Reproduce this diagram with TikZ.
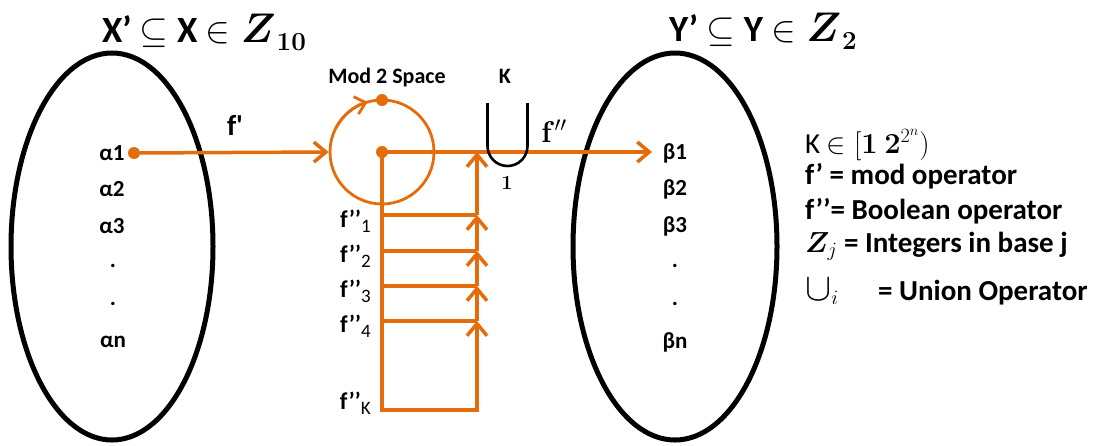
\RequirePackage{fix-cm}
\documentclass[tikz,border=0pt]{standalone}
\usepackage{amsmath,bm,graphicx}
\usepackage[no-math]{fontspec}
\setmainfont{Carlito}
\usetikzlibrary{arrows.meta,shapes.geometric}
\definecolor{org}{HTML}{E46C0A}
\newcommand{\sq}{\XeTeXglyph\XeTeXcharglyph"27\relax}
\begin{document}
\begin{tikzpicture}[x=1pt,y=1pt,
  setell/.style={ellipse,draw=black,line width=5pt,inner sep=0pt},
  oline/.style={draw=org,line width=3.5pt},
  oarr/.style={oline,-{Straight Barb[length=12pt,width=20pt,line width=3.5pt]}},
  odot/.style={circle,fill=org,inner sep=0pt,minimum size=12pt},
  lbl/.style={font=\fontsize{23}{25}\selectfont\bfseries,inner sep=0pt},
  ttl/.style={font=\fontsize{37}{40}\selectfont\bfseries,inner sep=0pt},
  leg/.style={font=\fontsize{29}{31}\selectfont\bfseries,inner sep=0pt,anchor=west},
  fl/.style={font=\fontsize{24}{26}\selectfont\bfseries,inner sep=0pt,anchor=east}
]
\useasboundingbox (0,0) rectangle (1099,-445);

% sets
\node[setell,minimum width=202pt,minimum height=387pt] (X) at (112,-246.5) {};
\node[setell,minimum width=204pt,minimum height=387pt] (Y) at (675,-246.5) {};
\node[ttl] (tx) at (204,-32) {X’ $\subseteq$ X $\in \scalebox{1.12}{$\boldsymbol{Z}$}$\hspace{1pt}\raisebox{-8pt}{\fontsize{26}{28}\selectfont$\mathbf{10}$}};
\node[ttl] (ty) at (763,-31) {Y’ $\subseteq$ Y $\in \scalebox{1.12}{$\boldsymbol{Z}$}$\hspace{1pt}\raisebox{-8pt}{\fontsize{26}{28}\selectfont$\mathbf{2}$}};

% alpha labels
\node[lbl] (a1) at (112,-153) {α1};
\node[lbl] (a2) at (112,-189) {α2};
\node[lbl] (a3) at (112,-226) {α3};
\node[lbl] (ad1) at (113,-266) {.};
\node[lbl] (ad2) at (113,-304) {.};
\node[lbl] (an) at (113,-342) {αn};

% beta labels
\node[lbl] (b1) at (675,-153) {β1};
\node[lbl] (b2) at (675,-189) {β2};
\node[lbl] (b3) at (675,-226) {β3};
\node[lbl] (bd1) at (675,-266) {.};
\node[lbl] (bd2) at (675,-304) {.};
\node[lbl] (bn) at (675,-342) {βn};

% mod 2 space
\node[odot] (d1) at (134,-153) {};
\node[circle,draw=org,line width=2.8pt,inner sep=0pt,minimum size=104pt] (M) at (382,-152) {};
\node[odot] (mc) at (382,-152) {};
\node[odot] (mt) at (382,-100) {};
\node[font=\fontsize{22}{24}\selectfont\bfseries,inner sep=0pt] (ml) at (387,-78) {Mod 2 Space};
\draw[draw=org,line width=2.8pt,-{Straight Barb[length=10pt,width=18pt,line width=2.8pt]}]
  ([shift={(152:52)}]M.center) arc[start angle=152,end angle=106,radius=52pt];

\draw[oarr] (d1) -- (M.west);
\node[font=\fontsize{29}{31}\selectfont\bfseries,inner sep=0pt] (fp) at (235,-125) {f\sq};

% main output arrow
\coordinate (tip) at (652,-152);
\draw[oarr] (mc.center) -- (tip);

% ladder
\coordinate (L1) at (382,-215);
\coordinate (L2) at (382,-251);
\coordinate (L3) at (382,-286);
\coordinate (L4) at (382,-321);
\coordinate (LK) at (382,-410);
\coordinate (R0) at (477,-152);
\coordinate (R1) at (477,-215);
\coordinate (R2) at (477,-251);
\coordinate (R3) at (477,-286);
\coordinate (R4) at (477,-321);
\coordinate (RK) at (477,-410);
\draw[oline] (mc.center) -- (LK);
\draw[oline] (L1) -- (R1);
\draw[oline] (L2) -- (R2);
\draw[oline] (L3) -- (R3);
\draw[oline] (L4) -- (R4);
\draw[oline,line cap=rect] (LK) -- (RK);
\draw[oarr] (RK) -- (R4);
\draw[oarr] (R4) -- (R3);
\draw[oarr] (R3) -- (R2);
\draw[oarr] (R2) -- (R1);
\draw[oarr] (R1) -- (R0);

\node[fl] (f1) at (371,-221) {f’’\raisebox{-5pt}{\fontsize{19}{19}\selectfont\mdseries 1}};
\node[fl] (f2) at (371,-256) {f’’\raisebox{-5pt}{\fontsize{19}{19}\selectfont\mdseries 2}};
\node[fl] (f3) at (371,-291) {f’’\raisebox{-5pt}{\fontsize{19}{19}\selectfont\mdseries 3}};
\node[fl] (f4) at (371,-326) {f’’\raisebox{-5pt}{\fontsize{19}{19}\selectfont\mdseries 4}};
\node[fl] (fK) at (371,-403) {f’’\raisebox{-5pt}{\fontsize{19}{19}\selectfont\mdseries K}};

% union
\draw[black,line width=2.6pt] (487.5,-103) -- (487.5,-146) arc[start angle=180,end angle=360,radius=20pt] -- (527.5,-103);
\node[font=\fontsize{22}{24}\selectfont\bfseries,inner sep=0pt] (kk) at (505,-76) {K};
\node[font=\fontsize{20}{22}\selectfont,inner sep=0pt] (one) at (507,-183) {$\mathbf{1}$};
\node[font=\fontsize{30}{32}\selectfont,inner sep=0pt] (fpp) at (554,-131) {$\mathbf{f}''$};

% legend
\node[leg,font=\fontsize{29}{31}\selectfont\mdseries] (g1) at (805,-145) {K $\in [\mathbf{1}\ \mathbf{2}^{2^n})$};
\node[leg] (g2) at (805,-176) {f’ = mod operator};
\node[leg] (g3) at (805,-211) {f’’= Boolean operator};
\node[leg] (g4) at (805,-246) {$\boldsymbol{Z}_j$ = Integers in base j};
\node[leg] (g5) at (805,-292) {$\scalebox{1.35}{$\cup$}_i$\hspace{33pt} = Union Operator};
\end{tikzpicture}
\end{document}
